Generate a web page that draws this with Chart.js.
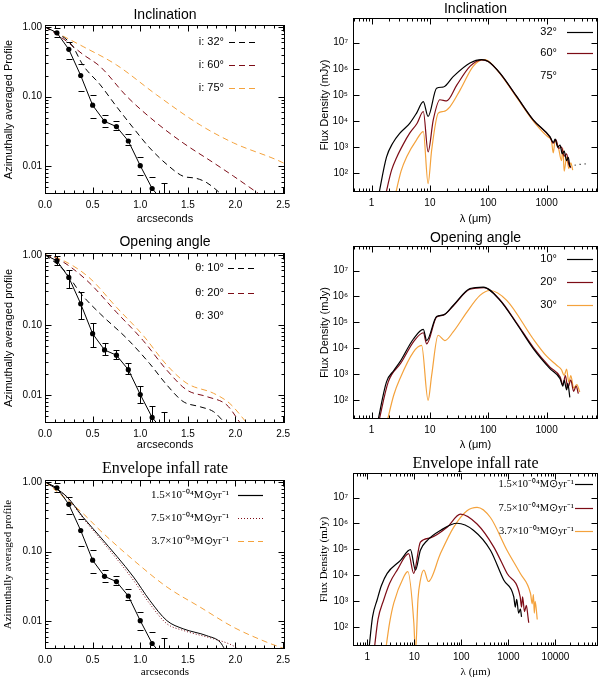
<!DOCTYPE html>
<html><head><meta charset="utf-8">
<script src="https://cdn.jsdelivr.net/npm/chart.js@4.4.1/dist/chart.umd.min.js"></script>
<style>
body{margin:0;background:#fff;width:600px;height:679px;position:relative;overflow:hidden}
canvas{position:absolute}
</style></head><body>
<canvas id="c1" width="300" height="226" style="left:0;top:0"></canvas>
<canvas id="c2" width="300" height="226" style="left:300px;top:0"></canvas>
<canvas id="c3" width="300" height="226" style="left:0;top:226px"></canvas>
<canvas id="c4" width="300" height="226" style="left:300px;top:226px"></canvas>
<canvas id="c5" width="300" height="227" style="left:0;top:452px"></canvas>
<canvas id="c6" width="300" height="227" style="left:300px;top:452px"></canvas>
<script>
// ---------- tick labels ----------
const arcTicks = [0, 0.5, 1.0, 1.5, 2.0, 2.5];
const arcTickLabels = ['0.0', '0.5', '1.0', '1.5', '2.0', '2.5'];
const profTicks = [0.01, 0.1, 1];
const profTickLabels = ['0.01', '0.10', '1.00'];
const sedXTicks = [1, 10, 100, 1000];
const sedXTickLabels = ['1', '10', '100', '1000'];
const sedXTicksWide = [1, 10, 100, 1000, 10000];
const sedXTickLabelsWide = ['1', '10', '100', '1000', '10000'];
const sedYTicks = [1e2, 1e3, 1e4, 1e5, 1e6, 1e7];
const sedYTickLabels = ['10²', '10³', '10⁴', '10⁵', '10⁶', '10⁷'];

// ---------- observed profile (arcsec, normalised) ----------
const obsX  = [0, 0.125, 0.25, 0.375, 0.5, 0.625, 0.75, 0.875, 1.0, 1.125, 1.25];
const obsY  = [1.0, 0.82, 0.475, 0.20, 0.075, 0.044, 0.037, 0.023, 0.0102, 0.0048, 0.003];
const obsHi = [null, 0.97, 0.60, 0.29, 0.105, 0.055, 0.044, 0.029, 0.0136, 0.0070, 0.0058];
const obsLo = [null, 0.72, 0.34, 0.12, 0.049, 0.037, 0.033, 0.020, 0.0076, 0.0030, 0.0010];

// ---------- inclination profiles ----------
const incX32 = [0, 0.28, 0.40, 0.58, 0.75, 0.93, 1.10, 1.28, 1.45, 1.59, 1.70, 1.86];
const incY32 = [1.0, 0.55, 0.28, 0.147, 0.072, 0.035, 0.0183, 0.0106, 0.0072, 0.0067, 0.0058, 0.0039];
const incX60 = [0, 0.20, 0.40, 0.58, 0.86, 1.17, 1.45, 1.77, 1.98, 2.26];
const incY60 = [1.0, 0.66, 0.40, 0.268, 0.10, 0.042, 0.0216, 0.0112, 0.0072, 0.0039];
const incX75 = [0, 0.40, 0.75, 1.17, 1.63, 1.98, 2.50, 2.52];
const incY75 = [1.0, 0.52, 0.284, 0.106, 0.039, 0.0216, 0.0112, 0.0108];

// ---------- opening angle profiles ----------
const opX10 = [0, 0.20, 0.38, 0.58, 0.86, 1.10, 1.28, 1.45, 1.63, 1.77, 1.89];
const opY10 = [1.0, 0.60, 0.277, 0.144, 0.064, 0.028, 0.0139, 0.0081, 0.0068, 0.0058, 0.0040];
const opX20 = [0, 0.15, 0.44, 0.75, 1.03, 1.28, 1.49, 1.70, 1.91, 2.05];
const opY20 = [1.0, 0.85, 0.43, 0.152, 0.060, 0.0226, 0.0118, 0.0095, 0.0072, 0.0040];
const opX30 = [0, 0.15, 0.46, 0.75, 1.03, 1.28, 1.49, 1.77, 1.94, 2.12];
const opY30 = [1.0, 0.88, 0.478, 0.179, 0.071, 0.0267, 0.0147, 0.0106, 0.0076, 0.0040];

// ---------- infall rate profiles ----------
const inX15 = [0, 0.23, 0.40, 0.58, 0.93, 1.10, 1.28, 1.45, 1.70, 1.84, 1.89];
const inY15 = [1.0, 0.61, 0.31, 0.162, 0.043, 0.0199, 0.0102, 0.0078, 0.0062, 0.0050, 0.0039];
const inX75 = [0, 0.23, 0.40, 0.58, 0.93, 1.10, 1.28, 1.45, 1.77, 1.94, 2.05];
const inY75 = [1.0, 0.60, 0.30, 0.152, 0.0385, 0.0178, 0.0092, 0.0074, 0.0056, 0.0047, 0.0039];
const inX37 = [0, 0.40, 0.58, 0.93, 1.28, 1.63, 1.98, 2.33, 2.50];
const inY37 = [1.0, 0.35, 0.20, 0.075, 0.031, 0.0159, 0.0082, 0.0050, 0.0041];

// ---------- SED: inclination ----------
const sIncL32 = [1.3, 1.8, 2.3, 3.06, 4.5, 5.9, 7.7, 9.3, 13, 17, 25, 48.5, 77, 100, 159, 307, 590, 1140, 1300, 1400, 1550, 1700, 1850, 2000, 2200, 2350, 2500];
const sIncF32 = [12, 4.1e2, 1.4e3, 3.4e3, 8.1e3, 2.0e4, 5.5e4, 1.5e4, 1.8e5, 2.0e5, 5.0e5, 1.66e6, 2.24e6, 1.9e6, 6.8e5, 8.7e4, 1.1e4, 2.5e3, 1.5e3, 2.0e3, 1.0e3, 1.2e3, 5.5e2, 7.0e2, 3.0e2, 4.0e2, 1.8e2];
const sIncLTail = [2500, 3300, 4100, 4900];
const sIncFTail = [1.8e2, 2.1e2, 2.2e2, 2.3e2];
const sIncL60 = [1.7, 2.2, 2.7, 3.5, 4.5, 6.0, 7.7, 9.3, 11.4, 14.8, 19.4, 29, 48.5, 77, 100, 159, 307, 590, 1140, 1300, 1450, 1600, 1800, 2000, 2200, 2400, 2600];
const sIncF60 = [12, 1.3e2, 4.1e2, 1.3e3, 3.4e3, 8.0e3, 2.3e4, 6.6e2, 1.1e4, 6.5e4, 5.9e4, 2.4e5, 1.23e6, 2.2e6, 1.9e6, 6.7e5, 8.5e4, 1.08e4, 2.4e3, 1.4e3, 1.9e3, 9.0e2, 1.0e3, 4.5e2, 5.5e2, 2.2e2, 1.6e2];
const sIncL75 = [2.5, 3.2, 4.0, 5.9, 7.7, 9.3, 10.7, 13.9, 17, 22, 33, 55, 82, 100, 159, 307, 590, 1140, 1200, 1300, 1400, 1600, 1800, 1900, 2000, 2200, 2400, 2600, 2800];
const sIncF75 = [12, 1.2e2, 4.3e2, 1.9e3, 3.9e3, 40, 7.6e2, 2.0e4, 2.3e4, 3.5e4, 1.55e5, 1.23e6, 2.24e6, 2.0e6, 6.5e5, 8.0e4, 1.0e4, 2.2e3, 2.0e3, 6.0e2, 1.8e3, 9.0e2, 3.0e2, 9.0e2, 1.2e2, 4.0e2, 1.5e2, 2.5e2, 1.3e2];

// ---------- SED: opening angle ----------
const sOpL10 = [1.25, 1.8, 2.4, 3.06, 5.2, 7.7, 8.8, 13, 17, 25, 48.5, 82, 159, 307, 590, 1140, 1700, 1900, 2000, 2200, 2300, 2500];
const sOpF10 = [12, 5.1e2, 1.4e3, 3.0e3, 2.3e4, 5.4e4, 2.0e4, 1.7e5, 1.95e5, 4.5e5, 2.0e6, 2.3e6, 7.1e5, 8.9e4, 9.8e3, 1.66e3, 6.8e2, 3.5e2, 6.0e2, 2.5e2, 4.5e2, 1.3e2];
const sOpL20 = [1.3, 1.93, 3.2, 5.4, 7.7, 8.8, 13, 17, 25, 48.5, 85, 159, 307, 590, 1140, 1700, 1900, 2100, 2300, 2600, 2900, 3200, 3500];
const sOpF20 = [12, 5.1e2, 2.8e3, 2.0e4, 4.0e4, 1.5e4, 1.6e5, 1.9e5, 4.3e5, 1.9e6, 2.2e6, 7.3e5, 9.5e4, 1.1e4, 1.9e3, 8.0e2, 4.0e2, 9.0e2, 3.0e2, 6.0e2, 2.2e2, 3.5e2, 1.8e2];
const sOpL30 = [1.8, 2.4, 3.06, 5.2, 7.2, 9.3, 10.7, 13.8, 18, 25, 43, 72, 107, 207, 590, 1000, 1500, 1800, 2000, 2200, 2400, 2600, 2900, 3300, 3700];
const sOpF30 = [12, 1.6e2, 6.8e2, 7.2e3, 1.3e4, 1.0e2, 9.1e2, 3.2e4, 2.0e4, 4.3e4, 2.5e5, 1.1e6, 1.7e6, 7.1e5, 2.3e4, 5.0e3, 2.2e3, 1.5e3, 9.0e2, 1.6e3, 5.0e2, 9.0e2, 3.0e2, 4.0e2, 2.1e2];

// ---------- SED: infall rate ----------
const sInL15 = [1.08, 1.3, 1.63, 2.0, 2.66, 5.1, 8.3, 10.6, 13.5, 18.8, 36, 81, 183, 415, 795, 1300, 1400, 1500, 1650, 1800, 1900];
const sInF15 = [12, 2.5e2, 1.15e3, 4.0e3, 1.2e4, 3.8e4, 9.8e4, 1.6e4, 9.3e4, 2.2e5, 5.4e5, 1.02e6, 5.4e5, 9.3e4, 6.6e3, 1.5e3, 6.0e2, 1.2e3, 3.5e2, 5.0e2, 2.5e2];
const sInL75 = [1.4, 1.7, 2.25, 3.0, 4.34, 7.6, 9.7, 13.5, 22, 50, 96, 216, 490, 933, 1780, 1900, 2000, 2200, 2400, 2600, 2700];
const sInF75 = [12, 2.0e2, 1.15e3, 5.0e3, 1.6e4, 6.9e4, 1.2e4, 1.9e5, 2.8e5, 7.2e5, 2.3e6, 9.5e5, 1.23e5, 1.2e4, 1.5e3, 6.0e2, 1.5e3, 4.0e2, 7.0e2, 2.6e2, 1.5e2];
const sInL37 = [2.45, 3.0, 3.67, 6.0, 7.3, 9.8, 10.6, 12, 13.5, 16, 20, 36, 69, 132, 216, 415, 933, 1780, 2950, 3200, 3400, 3550, 3700, 4100];
const sInF37 = [12, 1.5e2, 8.5e2, 8.9e3, 1.4e4, 1.5e2, 10, 1.2e3, 6.6e3, 1.6e4, 5.8e3, 6.9e4, 7.2e5, 3.1e6, 4.2e6, 1.7e6, 9.3e4, 1.2e4, 2.0e3, 8.0e2, 1.8e3, 3.5e2, 1.0e3, 2.0e2];

// ---------- styling ----------
const F  = "'Liberation Sans', Arial, sans-serif";
const FS = "'Liberation Serif', 'Times New Roman', serif";
const BLACK = '#000000', MAROON = '#7d0c16', ORANGE = '#f4a23c';

// minor tick positions (axis decoration only)
const arcMinor = []; for (let i = 1; i <= 25; i++) arcMinor.push(i / 10);
const profMinor = []; [0.001, 0.01, 0.1].forEach(d => { for (let k = 2; k <= 9; k++) profMinor.push(k * d); });
const sedXMinor = []; [0.1, 1, 10, 100, 1000, 10000].forEach(d => { for (let k = 2; k <= 9; k++) sedXMinor.push(k * d); });

function pts(xs, ys) { return xs.map((x, i) => ({ x: x, y: ys[i] })); }
function lineDS(xs, ys, color, dash, width) {
  return { data: pts(xs, ys), borderColor: color, borderWidth: width || 1, borderDash: dash || [],
    pointRadius: 0, fill: false, cubicInterpolationMode: 'monotone', spanGaps: true };
}
function obsDS() {
  return { data: pts(obsX, obsY), borderColor: BLACK, borderWidth: 1, tension: 0,
    pointRadius: obsX.map((x, i) => i === 0 ? 0 : 2.6), pointBackgroundColor: BLACK,
    pointBorderWidth: 0, fill: false };
}

// ---------- plugins ----------
const framePlugin = {
  id: 'frame',
  afterDatasetsDraw(chart, args, o) {
    const { ctx, chartArea: a, scales } = chart;
    const L = Math.round(a.left) + 0.5, R = Math.round(a.right) - 0.5, T = Math.round(a.top) + 0.5, B = Math.round(a.bottom) - 0.5;
    ctx.save();
    ctx.strokeStyle = '#000'; ctx.lineWidth = 1; ctx.setLineDash([]);
    ctx.strokeRect(L, T, R - L, B - T);
    ctx.beginPath();
    const xt = (vals, len) => vals.forEach(v => {
      const p = Math.round(scales.x.getPixelForValue(v)) + 0.5;
      if (p < L - 0.1 || p > R + 0.1) return;
      ctx.moveTo(p, B); ctx.lineTo(p, B - len); ctx.moveTo(p, T); ctx.lineTo(p, T + len);
    });
    const yt = (vals, len, right) => vals.forEach(v => {
      const p = Math.round(scales.y.getPixelForValue(v)) + 0.5;
      if (p < T - 0.1 || p > B + 0.1) return;
      ctx.moveTo(L, p); ctx.lineTo(L + len, p);
      if (right) { ctx.moveTo(R, p); ctx.lineTo(R - len, p); }
    });
    xt(o.xMajor, o.maj); xt(o.xMinor, o.min);
    yt(o.yMajor, o.maj, true); if (o.yMinor) yt(o.yMinor, o.min, true);
    ctx.stroke();
    ctx.restore();
  }
};
const titlePlugin = {
  id: 'ptitle',
  afterDraw(chart, args, o) {
    const { ctx, chartArea: a } = chart;
    ctx.save();
    ctx.fillStyle = '#000'; ctx.font = o.font; ctx.textAlign = 'center'; ctx.textBaseline = 'middle';
    ctx.fillText(o.text, (a.left + a.right) / 2, a.top - o.dy);
    ctx.restore();
  }
};
const keyPlugin = {
  id: 'key',
  afterDraw(chart, args, o) {
    const { ctx } = chart;
    ctx.save();
    o.items.forEach((it, i) => {
      const y = o.rows[i];
      ctx.fillStyle = '#000'; ctx.font = o.font; ctx.textAlign = 'right'; ctx.textBaseline = 'middle';
      ctx.fillText(it.text, o.textRight, y);
      if (it.color) {
        ctx.strokeStyle = it.color; ctx.lineWidth = 1.2; ctx.setLineDash(it.dash || []);
        ctx.beginPath(); ctx.moveTo(o.x0, y + 0.5); ctx.lineTo(o.x1, y + 0.5); ctx.stroke();
      }
    });
    ctx.restore();
  }
};
const errPlugin = {
  id: 'errbars',
  afterDatasetsDraw(chart, args, o) {
    if (!o.on) return;
    const { ctx, chartArea: a, scales } = chart;
    ctx.save();
    ctx.beginPath(); ctx.rect(a.left, a.top, a.width, a.height); ctx.clip();
    ctx.strokeStyle = '#000'; ctx.lineWidth = 1; ctx.setLineDash([]);
    ctx.beginPath();
    obsX.forEach((x, i) => {
      if (obsHi[i] == null) return;
      const px = Math.round(scales.x.getPixelForValue(x)) + 0.5;
      const ph = Math.round(scales.y.getPixelForValue(obsHi[i])) + 0.5;
      const pl = Math.round(scales.y.getPixelForValue(obsLo[i])) + 0.5;
      if (o.full || o.fullIdx.indexOf(i) >= 0) { ctx.moveTo(px, ph); ctx.lineTo(px, pl); }
      ctx.moveTo(px - o.cap, ph); ctx.lineTo(px + o.cap, ph);
      ctx.moveTo(px - o.cap, pl); ctx.lineTo(px + o.cap, pl);
    });
    ctx.stroke();
    ctx.restore();
  }
};

// ---------- builders ----------
function makeProfile(id, c) {
  new Chart(document.getElementById(id), {
    type: 'line',
    data: { datasets: c.datasets },
    options: {
      responsive: false, animation: false, devicePixelRatio: 1, events: [],
      layout: { padding: { top: c.top, right: 15, left: 0, bottom: 0 } },
      plugins: {
        legend: { display: false }, tooltip: { enabled: false },
        frame: { xMajor: arcTicks, xMinor: arcMinor, yMajor: profTicks, yMinor: profMinor, maj: 6, min: 3 },
        ptitle: { text: c.title, font: c.titleFont, dy: c.titleDy },
        key: c.key,
        errbars: { on: true, full: c.fullErr, fullIdx: [10], cap: 3 }
      },
      scales: {
        x: { type: 'linear', min: 0, max: 2.52,
          afterBuildTicks: s => { s.ticks = arcTicks.map(v => ({ value: v })); },
          afterFit: s => { s.height = c.xh; },
          ticks: { callback: (v, i) => arcTickLabels[i], font: { size: 10, family: F }, color: '#000', padding: 5, autoSkip: false, maxRotation: 0 },
          grid: { display: false, drawTicks: false }, border: { display: false },
          title: { display: true, text: 'arcseconds', font: { size: 11, family: c.axFont }, color: '#000', padding: 0 } },
        y: { type: 'logarithmic', min: 0.004, max: 1.06,
          afterBuildTicks: s => { s.ticks = profTicks.map(v => ({ value: v })); },
          afterFit: s => { s.width = 45; },
          ticks: { callback: (v, i) => profTickLabels[i], font: { size: 10, family: F }, color: '#000', padding: 3, autoSkip: false },
          grid: { display: false, drawTicks: false }, border: { display: false },
          title: { display: true, text: c.ytitle, font: { size: 11, family: c.axFont }, color: '#000', padding: { top: 2, bottom: 0 } } }
      }
    },
    plugins: [framePlugin, titlePlugin, keyPlugin, errPlugin]
  });
}
function makeSED(id, c) {
  const xt = c.wide ? sedXTicksWide : sedXTicks, xl = c.wide ? sedXTickLabelsWide : sedXTickLabels;
  new Chart(document.getElementById(id), {
    type: 'line',
    data: { datasets: c.datasets },
    options: {
      responsive: false, animation: false, devicePixelRatio: 1, events: [],
      layout: { padding: { top: c.top, right: 2, left: 0, bottom: 0 } },
      plugins: {
        legend: { display: false }, tooltip: { enabled: false },
        frame: { xMajor: xt, xMinor: sedXMinor, yMajor: sedYTicks, yMinor: null, maj: 6, min: 3 },
        ptitle: { text: c.title, font: c.titleFont, dy: c.titleDy },
        key: c.key,
        errbars: { on: false }
      },
      scales: {
        x: { type: 'logarithmic', min: c.xmin, max: c.xmax,
          afterBuildTicks: s => { s.ticks = xt.map(v => ({ value: v })); },
          afterFit: s => { s.height = c.xh; },
          ticks: { callback: (v, i) => xl[i], font: { size: 10, family: F }, color: '#000', padding: 5, autoSkip: false, maxRotation: 0 },
          grid: { display: false, drawTicks: false }, border: { display: false },
          title: { display: true, text: 'λ (μm)', font: { size: 11, family: c.axFont }, color: '#000', padding: 0 } },
        y: { type: 'logarithmic', min: 19, max: 8.8e7,
          afterBuildTicks: s => { s.ticks = sedYTicks.map(v => ({ value: v })); },
          afterFit: s => { s.width = 53; },
          ticks: { callback: (v, i) => sedYTickLabels[i], font: { size: 10, family: F }, color: '#000', padding: 5, autoSkip: false },
          grid: { display: false, drawTicks: false }, border: { display: false },
          title: { display: true, text: 'Flux Density (mJy)', font: { size: 11, family: c.axFont }, color: '#000', padding: { top: 18, bottom: 0 } } }
      }
    },
    plugins: [framePlugin, titlePlugin, keyPlugin, errPlugin]
  });
}

const DASH = [6, 4];

makeProfile('c1', {
  title: 'Inclination', titleFont: '14px ' + F, titleDy: 10, top: 25, xh: 32, axFont: F,
  ytitle: 'Azimuthally averaged Profile', fullErr: false,
  datasets: [obsDS(), lineDS(incX32, incY32, BLACK, DASH), lineDS(incX60, incY60, MAROON, DASH), lineDS(incX75, incY75, ORANGE, DASH)],
  key: { font: '11px ' + F, textRight: 224, x0: 229, x1: 258, rows: [42, 65, 88],
    items: [{ text: 'i: 32°', color: BLACK, dash: DASH }, { text: 'i: 60°', color: MAROON, dash: DASH }, { text: 'i: 75°', color: ORANGE, dash: DASH }] }
});
makeProfile('c3', {
  title: 'Opening angle', titleFont: '14px ' + F, titleDy: 11, top: 27, xh: 29, axFont: F,
  ytitle: 'Azimuthally averaged profile', fullErr: true,
  datasets: [obsDS(), lineDS(opX10, opY10, BLACK, DASH), lineDS(opX20, opY20, MAROON, DASH), lineDS(opX30, opY30, ORANGE, DASH)],
  key: { font: '11px ' + F, textRight: 224, x0: 228, x1: 258, rows: [42, 67, 90],
    items: [{ text: 'θ: 10°', color: BLACK, dash: DASH }, { text: 'θ: 20°', color: MAROON, dash: DASH }, { text: 'θ: 30°', color: null }] }
});
makeProfile('c5', {
  title: 'Envelope infall rate', titleFont: '16px ' + FS, titleDy: 11, top: 28, xh: 30, axFont: FS,
  ytitle: 'Azimuthally averaged profile', fullErr: false,
  datasets: [obsDS(), lineDS(inX15, inY15, BLACK, []), lineDS(inX75, inY75, MAROON, [1, 2]), lineDS(inX37, inY37, ORANGE, DASH)],
  key: { font: '11px ' + FS, textRight: 229, x0: 238, x1: 263, rows: [43, 66, 89],
    items: [{ text: '1.5×10⁻⁰⁴M⊙yr⁻¹', color: BLACK, dash: [] }, { text: '7.5×10⁻⁰⁴M⊙yr⁻¹', color: MAROON, dash: [1, 2] }, { text: '3.7×10⁻⁰³M⊙yr⁻¹', color: ORANGE, dash: DASH }] }
});
makeSED('c2', {
  title: 'Inclination', titleFont: '14px ' + F, titleDy: 9, top: 18, xh: 34, axFont: F, xmin: 0.48, xmax: 7600,
  datasets: [lineDS(sIncL32, sIncF32, BLACK, [], 1.2), lineDS(sIncLTail, sIncFTail, BLACK, [1, 4], 1.2), lineDS(sIncL60, sIncF60, MAROON, [], 1.2), lineDS(sIncL75, sIncF75, ORANGE, [], 1.2)],
  key: { font: '11px ' + F, textRight: 257, x0: 267, x1: 293, rows: [32, 53, 76],
    items: [{ text: '32°', color: BLACK }, { text: '60°', color: MAROON }, { text: '75°', color: null }] }
});
makeSED('c4', {
  title: 'Opening angle', titleFont: '14px ' + F, titleDy: 8, top: 20, xh: 33, axFont: F, xmin: 0.48, xmax: 7600,
  datasets: [lineDS(sOpL10, sOpF10, BLACK, [], 1.2), lineDS(sOpL20, sOpF20, MAROON, [], 1.2), lineDS(sOpL30, sOpF30, ORANGE, [], 1.2)],
  key: { font: '11px ' + F, textRight: 257, x0: 267, x1: 293, rows: [33, 56, 79],
    items: [{ text: '10°', color: BLACK }, { text: '20°', color: MAROON }, { text: '30°', color: ORANGE }] }
});
makeSED('c6', {
  title: 'Envelope infall rate', titleFont: '16px ' + FS, titleDy: 9, top: 21, xh: 33, axFont: FS, xmin: 0.5, xmax: 80000, wide: true,
  datasets: [lineDS(sInL15, sInF15, BLACK, [], 1.2), lineDS(sInL75, sInF75, MAROON, [], 1.2), lineDS(sInL37, sInF37, ORANGE, [], 1.2)],
  key: { font: '10.5px ' + FS, textRight: 274, x0: 275, x1: 293, rows: [32, 56, 79],
    items: [{ text: '1.5×10⁻⁰⁴M⊙yr⁻¹', color: BLACK }, { text: '7.5×10⁻⁰⁴M⊙yr⁻¹', color: MAROON }, { text: '3.7×10⁻⁰³M⊙yr⁻¹', color: ORANGE }] }
});
</script>
</body></html>
